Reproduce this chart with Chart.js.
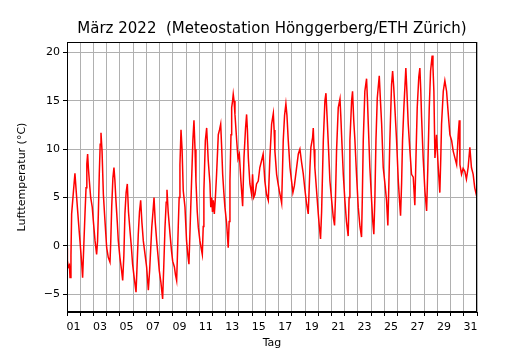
<!DOCTYPE html>
<html>
<head>
<meta charset="utf-8">
<script src="https://cdn.jsdelivr.net/npm/chart.js@4"></script>
<style>
  html, body { margin: 0; padding: 0; background: #fff; }
</style>
</head>
<body>
<canvas id="chart" width="530" height="350"></canvas>
<script>
// Zeit in Tagen ab 1. März 00:00 und Lufttemperatur in °C
var tage = [
  0.0, 0.03, 0.1, 0.18, 0.23, 0.3, 0.35, 0.48, 0.6, 0.73, 0.86, 0.98, 1.11, 1.18,
  1.27, 1.36, 1.44, 1.5, 1.56, 1.62, 1.69, 1.79, 1.91, 1.99, 2.12, 2.24,
  2.31, 2.37, 2.44, 2.51, 2.57, 2.65, 2.75, 2.87, 3.0, 3.12, 3.25,
  3.31, 3.38, 3.47, 3.55, 3.62, 3.7, 3.8, 3.88, 4.0, 4.13, 4.21,
  4.3, 4.38, 4.47, 4.56, 4.65, 4.76, 4.86, 4.96, 5.08, 5.22,
  5.3, 5.39, 5.48, 5.57, 5.66, 5.77, 5.9, 6.02, 6.15,
  6.25, 6.41, 6.5, 6.58, 6.67, 6.78, 6.88, 6.98, 7.1, 7.23,
  7.32, 7.41, 7.5, 7.56, 7.65, 7.79, 7.9, 7.99, 8.12, 8.2, 8.29,
  8.35, 8.41, 8.48, 8.54, 8.62, 8.7, 8.79, 8.92, 9.04, 9.14, 9.22,
  9.3, 9.42, 9.52, 9.6, 9.68, 9.75, 9.85, 9.93, 10.05, 10.15, 10.23,
  10.3, 10.35, 10.46, 10.56, 10.62, 10.68, 10.81, 10.87, 10.93, 11.0, 11.06, 11.14,
  11.22, 11.31, 11.44, 11.53, 11.62, 11.7, 11.77, 11.86, 11.94, 12.07, 12.19,
  12.26, 12.32, 12.4, 12.45, 12.52, 12.57, 12.63, 12.7, 12.83, 12.93, 13.03, 13.15, 13.28,
  13.38, 13.5, 13.58, 13.64, 13.71, 13.83, 13.96, 14.03, 14.12, 14.21, 14.33, 14.46, 14.58, 14.71, 14.83, 14.96, 15.09, 15.22,
  15.34, 15.47, 15.6, 15.66, 15.72, 15.85, 15.95, 16.05, 16.15, 16.23,
  16.35, 16.45, 16.55, 16.63, 16.73, 16.86, 16.98, 17.08, 17.19, 17.36, 17.49, 17.61, 17.74, 17.86, 17.99, 18.12, 18.24,
  18.37, 18.44, 18.57, 18.62, 18.68, 18.74, 18.87, 19.0, 19.08, 19.17,
  19.25, 19.38, 19.5, 19.58, 19.66, 19.76, 19.88, 20.01, 20.13, 20.23,
  20.3, 20.38, 20.51, 20.64, 20.7, 20.76, 20.89, 21.01, 21.13, 21.26,
  21.33, 21.39, 21.52, 21.59, 21.68, 21.77, 21.89, 22.02, 22.15, 22.27,
  22.33, 22.4, 22.52, 22.65, 22.72, 22.78, 22.9, 23.03, 23.12, 23.2,
  23.28, 23.36, 23.46, 23.61, 23.7, 23.79, 23.91, 24.04, 24.16, 24.26,
  24.33, 24.41, 24.54, 24.62, 24.7, 24.79, 24.92, 25.05, 25.15, 25.22,
  25.3, 25.37, 25.47, 25.62, 25.7, 25.8, 25.93, 26.05, 26.18, 26.3,
  26.4, 26.48, 26.6, 26.68, 26.75, 26.81, 26.93, 27.06, 27.19,
  27.28, 27.39, 27.49, 27.61, 27.67, 27.74, 27.82, 27.94, 28.07, 28.19,
  28.26, 28.32, 28.45, 28.57, 28.7, 28.83, 28.95, 29.08, 29.2, 29.33, 29.46, 29.58, 29.66, 29.71, 29.83, 29.95,
  30.08, 30.2, 30.33, 30.46, 30.58, 30.71, 30.83, 31.0
];
var temperatur = [
  -0.2, -1.5, -2.2, -2.0, -3.3, -1.0, 3.3, 5.5, 7.5, 5.0, 2.6, 0.5, -1.8, -3.3,
  0.0, 3.3, 6.0, 8.5, 9.5, 8.0, 6.7, 5.0, 4.0, 2.6, 0.5, -0.9,
  0.5, 3.3, 7.4, 10.5, 11.7, 9.8, 5.3, 2.6, -0.2, -1.2, -1.7,
  0.5, 4.0, 7.0, 8.1, 6.8, 4.7, 2.5, 0.5, -1.2, -2.6, -3.6,
  -1.0, 3.3, 5.5, 6.4, 3.5, 1.6, 0.0, -1.9, -3.3, -4.8,
  -2.0, 1.2, 3.5, 4.7, 2.5, 0.5, -0.9, -2.2, -4.6,
  -2.5, 1.9, 3.5, 5.0, 2.5, 0.5, -1.0, -2.6, -3.8, -5.5,
  -2.0, 1.9, 4.5, 5.8, 3.5, 1.2, -0.5, -1.6, -2.2, -3.0, -3.6,
  -1.0, 1.9, 5.0, 8.4, 12.0, 10.0, 5.7, 4.0, 0.5, -1.0, -1.9,
  1.5, 6.7, 11.0, 13.0, 10.0, 6.7, 3.5, 1.9, 0.5, -0.3, -0.9,
  2.0, 5.7, 10.9, 12.2, 10.5, 8.8, 6.4, 4.0, 5.0, 3.5, 4.7, 3.3,
  5.0, 7.4, 11.5, 12.0, 12.6, 10.0, 7.4, 5.5, 4.0, 2.3, -0.2,
  2.5, 6.7, 11.5, 14.3, 15.0, 15.7, 15.0, 13.6, 10.9, 9.0, 9.5, 6.7, 4.1,
  9.1, 12.2, 13.6, 12.0, 9.1, 6.4, 5.3, 7.4, 5.0, 5.3, 6.4, 6.7, 8.1, 8.8, 9.5, 6.7, 5.3, 4.7,
  9.1, 12.6, 13.7, 12.0, 9.8, 7.4, 6.5, 5.7, 5.0, 4.4,
  10.9, 13.5, 14.7, 13.5, 10.9, 8.1, 6.7, 5.5, 6.2, 8.1, 9.5, 10.0, 8.6, 7.5, 5.8, 4.3, 3.3,
  8.1, 10.2, 11.2, 12.2, 10.0, 8.1, 5.7, 3.3, 2.0, 0.7,
  3.5, 10.9, 15.0, 15.8, 13.5, 10.5, 6.7, 4.7, 3.0, 2.1,
  5.0, 9.8, 14.3, 15.2, 13.5, 11.5, 7.4, 4.7, 2.5, 1.0,
  5.0, 10.9, 15.0, 16.0, 13.0, 10.9, 7.4, 4.0, 2.0, 0.9,
  5.0, 10.9, 16.0, 17.3, 15.0, 12.6, 8.1, 4.7, 2.5, 1.2,
  5.0, 10.9, 15.3, 17.6, 15.0, 12.6, 8.1, 6.4, 4.7, 2.1,
  6.0, 10.9, 16.7, 18.1, 16.5, 14.3, 10.9, 6.7, 4.5, 3.1,
  6.5, 10.9, 14.3, 18.4, 16.0, 12.6, 9.8, 7.4, 7.1, 4.2,
  10.0, 14.3, 17.5, 18.4, 16.0, 13.3, 9.1, 5.7, 3.6,
  8.0, 14.3, 18.1, 19.7, 18.5, 16.0, 9.1, 11.5, 8.1, 5.5,
  9.0, 12.6, 16.0, 17.1, 16.0, 13.6, 11.5, 10.9, 9.8, 9.1, 8.4, 11.5, 13.0, 8.4, 7.4, 8.0,
  7.7, 6.9, 8.1, 10.2, 8.1, 7.4, 6.0, 5.0
];
var yTicks = [-5, 0, 5, 10, 15, 20];
var titel = 'März 2022  (Meteostation Hönggerberg/ETH Zürich)';

var schrift = { family: 'DejaVu Sans', size: 11 };

// Titel und Rahmen wie bei matplotlib
var rahmen = {
  id: 'rahmen',
  afterDraw: function (chart) {
    var ctx = chart.ctx, a = chart.chartArea;
    ctx.save();
    ctx.strokeStyle = '#000';
    ctx.lineWidth = 1;
    ctx.strokeRect(Math.round(a.left) + 0.5, Math.round(a.top) + 0.5,
      Math.round(a.right - a.left) - 1, Math.round(a.bottom - a.top) - 1);
    ctx.fillStyle = '#000';
    ctx.font = '15px "DejaVu Sans"';
    ctx.textAlign = 'center';
    ctx.textBaseline = 'middle';
    ctx.fillText(titel, (a.left + a.right) / 2, 29);
    ctx.restore();
  }
};

new Chart(document.getElementById('chart'), {
  type: 'line',
  data: {
    datasets: [{
      data: tage.map(function (t, i) { return { x: t, y: temperatur[i] }; }),
      borderColor: '#ff0000',
      borderWidth: 1.5,
      pointRadius: 0,
      tension: 0,
      fill: false
    }]
  },
  options: {
    responsive: false,
    animation: false,
    layout: { padding: { top: 42, right: 53, bottom: 0, left: 0 } },
    plugins: { legend: { display: false }, tooltip: { enabled: false } },
    scales: {
      x: {
        type: 'linear',
        min: 0,
        max: 31,
        afterBuildTicks: function (s) {
          var t = [];
          for (var i = 0; i <= 62; i++) t.push({ value: i / 2 });
          s.ticks = t;
        },
        afterFit: function (s) { s.height = 38; },
        ticks: {
          autoSkip: false,
          maxRotation: 0,
          padding: 5,
          color: '#000',
          font: schrift,
          callback: function (v) {
            if (v % 1 !== 0.5) return '';
            var tag = Math.floor(v) + 1;
            return tag % 2 === 1 ? String(tag).padStart(2, '0') : '';
          }
        },
        grid: {
          color: function (c) { return c.tick && c.tick.value % 1 === 0 ? '#b0b0b0' : 'rgba(0,0,0,0)'; },
          tickColor: function (c) { return c.tick && c.tick.value % 1 === 0 ? '#000' : 'rgba(0,0,0,0)'; },
          tickLength: 4,
          lineWidth: 1
        },
        border: { color: '#000', width: 1 },
        title: { display: true, text: 'Tag', color: '#000', font: schrift, padding: { top: 0, bottom: 0 } }
      },
      y: {
        min: -6.86,
        max: 21.1,
        afterBuildTicks: function (s) {
          s.ticks = yTicks.map(function (v) { return { value: v }; });
        },
        afterFit: function (s) { s.width = 67; },
        ticks: {
          padding: 3,
          color: '#000',
          font: schrift,
          callback: function (v) { return v < 0 ? '\u2212' + Math.abs(v) : String(v); }
        },
        grid: { color: '#b0b0b0', tickColor: '#000', tickLength: 4, lineWidth: 1 },
        border: { color: '#000', width: 1 },
        title: { display: true, text: 'Lufttemperatur (°C)', color: '#000', font: schrift, padding: { top: 16, bottom: 0 } }
      }
    }
  },
  plugins: [rahmen]
});
</script>
</body>
</html>
